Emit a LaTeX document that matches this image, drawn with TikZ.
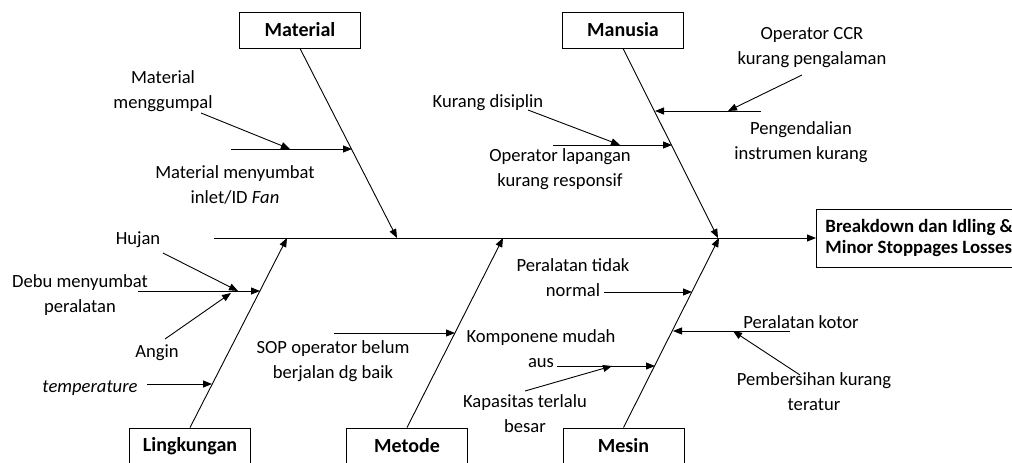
\documentclass[tikz,border=0pt]{standalone}
\usepackage{fontspec}
\setmainfont{Carlito}
\usetikzlibrary{arrows.meta}
\begin{document}
\begin{tikzpicture}[x=1pt, y=-1pt, line width=0.9pt, font=\fontsize{18.6}{25}\selectfont]
    \tikzstyle{cat} = [draw, minimum width=121pt, minimum height=36pt, font=\fontsize{20}{25}\selectfont\bfseries]
    \tikzstyle{lbl} = [align=center, inner sep=0pt]
    \tikzstyle{arr} = [-{Triangle[length=9pt,width=7pt]}]
    \useasboundingbox (0,0) rectangle (1012,463);

    % Category boxes (top row and bottom row)
    \node[cat] (mat) at (300,30) {Material};
    \node[cat] (man) at (623,30) {Manusia};
    \node[cat] (lin) at (190,446) {Lingkungan};
    \node[cat] (met) at (407,446) {Metode};
    \node[cat] (mes) at (623.5,446) {Mesin};

    % Effect box (head of the fish)
    \node[draw, anchor=west, align=left, minimum height=58pt, inner xsep=9pt,
          font=\fontsize{18.8}{21}\selectfont\bfseries] (eff) at (816,238)
          {Breakdown dan Idling \&\\Minor Stoppages Losses};

    % Spine
    \coordinate (tail) at (214,238);
    \draw[arr] (tail) -- (eff.west);

    % Main bones
    \coordinate (matend) at (397,238);
    \coordinate (manend) at (718,238);
    \coordinate (linend) at (287,238);
    \coordinate (metend) at (503,238);
    \coordinate (mesend) at (719,238);
    \draw[arr] (mat.south) -- (matend);
    \draw[arr] (man.south) -- (manend);
    \draw[arr] (lin.north) -- (linend);
    \draw[arr] (met.north) -- (metend);
    \draw[arr] (mes.north) -- (mesend);

    % Labels
    \node[lbl] (mgum) at (163,91) {Material\\menggumpal};
    \node[lbl] (msum) at (235,185) {Material menyumbat\\inlet/ID \textit{Fan}};
    \node[lbl] (kdis) at (488,103) {Kurang disiplin};
    \node[lbl] (olap) at (560,169) {Operator lapangan\\kurang responsif};
    \node[lbl] (occr) at (812,48) {Operator CCR\\kurang pengalaman};
    \node[lbl] (pins) at (801,142) {Pengendalian\\instrumen kurang};
    \node[lbl] (hujan) at (138,240) {Hujan};
    \node[lbl] (debu) at (80,295) {Debu menyumbat\\peralatan};
    \node[lbl] (angin) at (157,353) {Angin};
    \node[lbl] (temp) at (90,388) {\textit{temperature}};
    \node[lbl] (sop) at (333,361) {SOP operator belum\\berjalan dg baik};
    \node[lbl] (ptn) at (573,278) {Peralatan tidak\\normal};
    \node[lbl] (kmp) at (541,349) {Komponene mudah\\aus};
    \node[lbl] (kap) at (525,414) {Kapasitas terlalu\\besar};
    \node[lbl] (pkot) at (801,322) {Peralatan kotor};
    \node[lbl] (pber) at (814,392) {Pembersihan kurang\\teratur};

    % Sub-bones: Material
    \coordinate (ma0) at (231,149);
    \coordinate (ma1) at (352,149);
    \coordinate (ma2) at (201,113);
    \coordinate (ma3) at (290,149);
    \draw[arr] (ma0) -- (ma1);
    \draw[arr] (ma2) -- (ma3);

    % Sub-bones: Manusia
    \coordinate (mn0) at (553,145);
    \coordinate (mn1) at (672,145);
    \coordinate (mn2) at (528,110);
    \coordinate (mn3) at (620,145);
    \coordinate (mn4) at (761,111);
    \coordinate (mn5) at (655,111);
    \coordinate (mn6) at (802,75);
    \coordinate (mn7) at (728,111);
    \draw[arr] (mn0) -- (mn1);
    \draw[arr] (mn2) -- (mn3);
    \draw[arr] (mn4) -- (mn5);
    \draw[arr] (mn6) -- (mn7);

    % Sub-bones: Lingkungan
    \coordinate (li0) at (138,291);
    \coordinate (li1) at (260,291);
    \coordinate (li2) at (163,253);
    \coordinate (li3) at (238,291);
    \coordinate (li4) at (165,339);
    \coordinate (li5) at (231,293);
    \coordinate (li6) at (147,384);
    \coordinate (li7) at (212,384);
    \draw[arr] (li0) -- (li1);
    \draw[arr] (li2) -- (li3);
    \draw[arr] (li4) -- (li5);
    \draw[arr] (li6) -- (li7);

    % Sub-bones: Metode
    \coordinate (me0) at (334,333);
    \coordinate (me1) at (455,333);
    \draw[arr] (me0) -- (me1);

    % Sub-bones: Mesin
    \coordinate (ms0) at (604,292);
    \coordinate (ms1) at (692,292);
    \coordinate (ms2) at (557,366);
    \coordinate (ms3) at (655,366);
    \coordinate (ms4) at (525,391);
    \coordinate (ms5) at (612,366);
    \coordinate (ms6) at (790,331);
    \coordinate (ms7) at (673,331);
    \coordinate (ms8) at (800,375);
    \coordinate (ms9) at (733,331);
    \draw[arr] (ms0) -- (ms1);
    \draw[arr] (ms2) -- (ms3);
    \draw[arr] (ms4) -- (ms5);
    \draw[arr] (ms6) -- (ms7);
    \draw[arr] (ms8) -- (ms9);
\end{tikzpicture}
\end{document}
